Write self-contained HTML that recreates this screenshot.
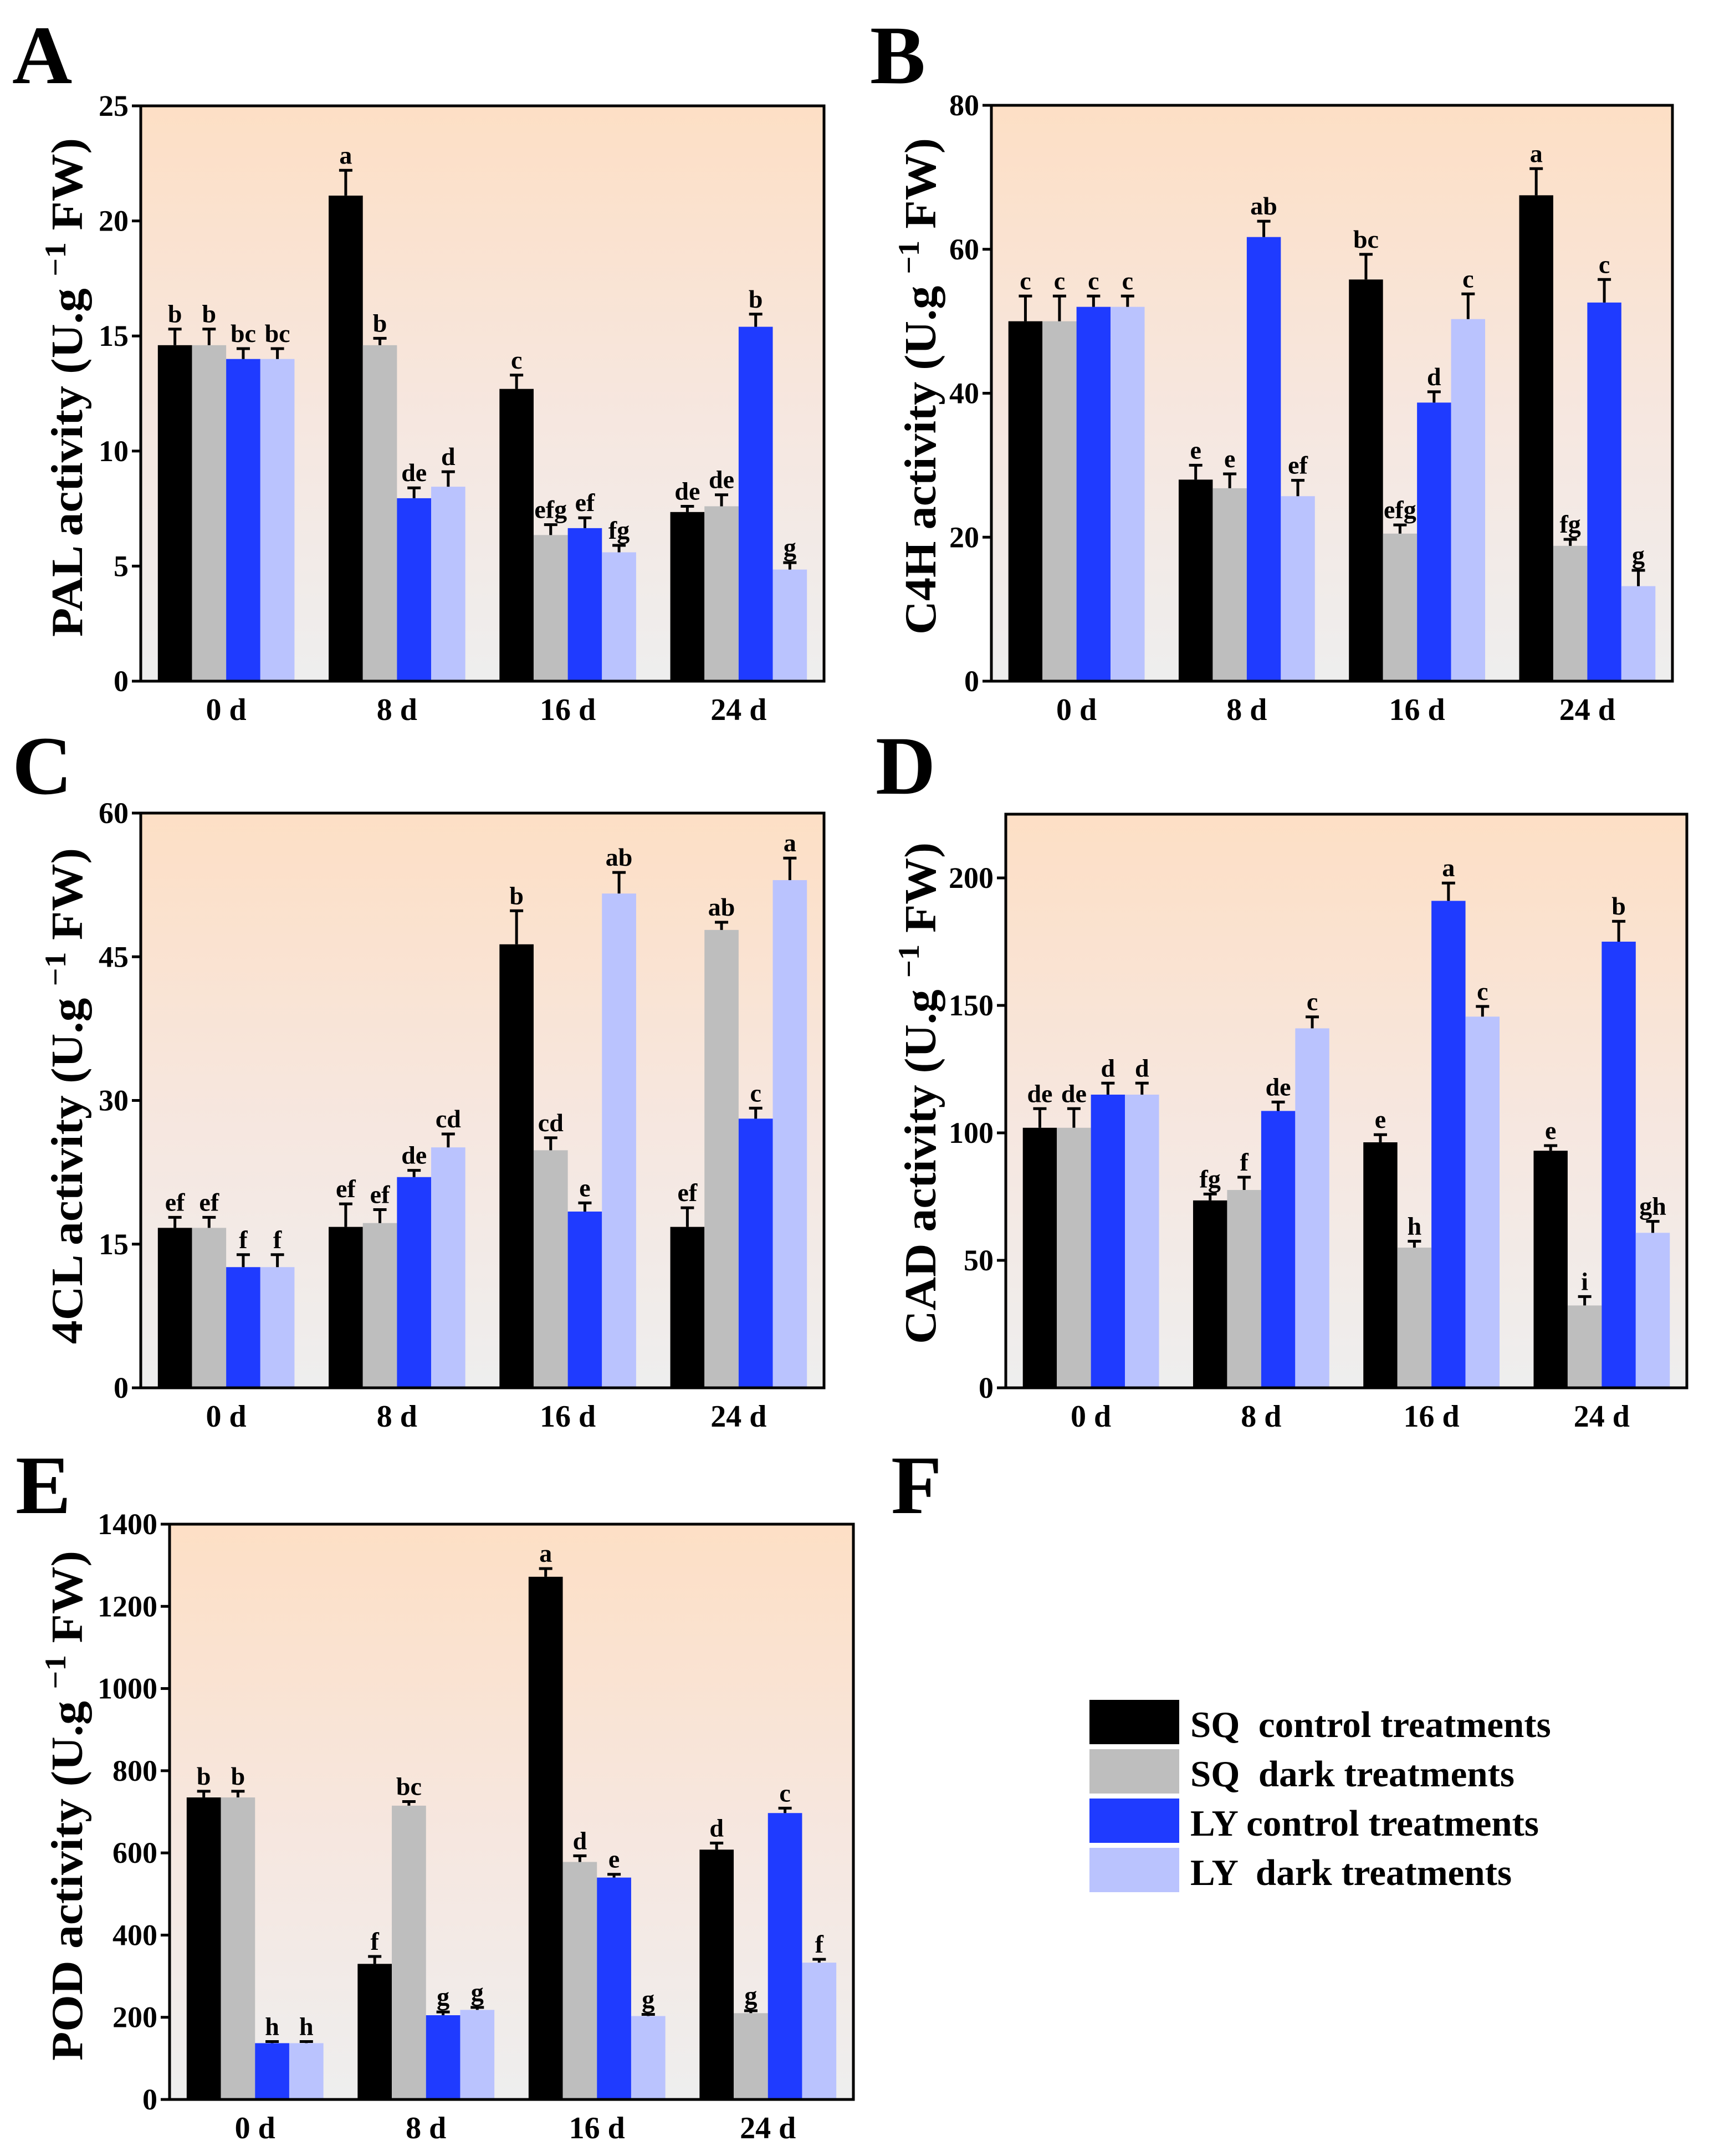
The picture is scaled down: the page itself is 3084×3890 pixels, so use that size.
<!DOCTYPE html>
<html><head><meta charset="utf-8"><style>
html,body{margin:0;padding:0;background:#fff;}
svg{display:block;font-family:"Liberation Serif",serif;font-weight:bold;}
</style></head><body>
<svg id="fig" width="3084" height="3890" viewBox="0 0 3084 3890" xmlns="http://www.w3.org/2000/svg">
<defs>
<linearGradient id="bg" x1="0" y1="0" x2="0" y2="1">
<stop offset="0" stop-color="#fddfc5"/><stop offset="0.55" stop-color="#f6e7e0"/><stop offset="1" stop-color="#eeeeee"/>
</linearGradient>
</defs>
<g id="legend">
<rect x="1966" y="3067" width="162" height="80" fill="#000"/>
<text x="2148" y="3134" font-size="67" xml:space="preserve">SQ  control treatments</text>
<rect x="1966" y="3156" width="162" height="80" fill="#bebebe"/>
<text x="2148" y="3223" font-size="67" xml:space="preserve">SQ  dark treatments</text>
<rect x="1966" y="3245" width="162" height="80" fill="#1f3bff"/>
<text x="2148" y="3312" font-size="67" xml:space="preserve">LY control treatments</text>
<rect x="1966" y="3334" width="162" height="80" fill="#bac3fe"/>
<text x="2148" y="3401" font-size="67" xml:space="preserve">LY  dark treatments</text>
</g>
<text x="1608" y="2730" font-size="150">F</text>
</svg>
<script>
const categories = ["0 d","8 d","16 d","24 d"];
const seriesColors = ["#000000","#bebebe","#1f3bff","#bac3fe"];

// Panel A - PAL
const palSQc = [14.6,21.1,12.7,7.35], palSQd = [14.6,14.6,6.35,7.6], palLYc = [14.0,7.95,6.65,15.4], palLYd = [14.0,8.45,5.6,4.85];
const palErrSQc = [0.7,1.1,0.6,0.25], palErrSQd = [0.7,0.3,0.45,0.5], palErrLYc = [0.45,0.45,0.45,0.55], palErrLYd = [0.45,0.65,0.3,0.3];
const palLetSQc = ["b","a","c","de"], palLetSQd = ["b","b","efg","de"], palLetLYc = ["bc","de","ef","b"], palLetLYd = ["bc","d","fg","g"];
const palTicks = [0,5,10,15,20,25];

// Panel B - C4H
const c4hSQc = [50,28,55.8,67.5], c4hSQd = [50,26.8,20.5,18.8], c4hLYc = [52,61.7,38.7,52.6], c4hLYd = [52,25.7,50.3,13.2];
const c4hErrSQc = [3.5,2,3.5,3.7], c4hErrSQd = [3.5,2,1.2,0.9], c4hErrLYc = [1.5,2.2,1.5,3.2], c4hErrLYd = [1.5,2.2,3.5,2.2];
const c4hLetSQc = ["c","e","bc","a"], c4hLetSQd = ["c","e","efg","fg"], c4hLetLYc = ["c","ab","d","c"], c4hLetLYd = ["c","ef","c","g"];
const c4hTicks = [0,20,40,60,80];

// Panel C - 4CL
const clSQc = [16.7,16.8,46.3,16.8], clSQd = [16.7,17.2,24.8,47.8], clLYc = [12.6,22,18.4,28.1], clLYd = [12.6,25.1,51.6,53];
const clErrSQc = [1.1,2.4,3.5,2], clErrSQd = [1.1,1.4,1.3,0.8], clErrLYc = [1.3,0.7,0.9,1.1], clErrLYd = [1.3,1.4,2.2,2.3];
const clLetSQc = ["ef","ef","b","ef"], clLetSQd = ["ef","ef","cd","ab"], clLetLYc = ["f","de","e","c"], clLetLYd = ["f","cd","ab","a"];
const clTicks = [0,15,30,45,60];

// Panel D - CAD
const cadSQc = [102,73.5,96.3,93], cadSQd = [102,77.6,55,32.3], cadLYc = [115,108.6,191,175], cadLYd = [115,141,145.6,60.8];
const cadErrSQc = [7.5,2.5,3,2], cadErrSQd = [7.5,5,2.5,3.5], cadErrLYc = [4.5,3.5,7,8], cadErrLYd = [4.5,4.5,4,4.5];
const cadLetSQc = ["de","fg","e","e"], cadLetSQd = ["de","f","h","i"], cadLetLYc = ["d","de","a","b"], cadLetLYd = ["d","c","c","gh"];
const cadTicks = [0,50,100,150,200];

// Panel E - POD
const podSQc = [735,330,1272,608], podSQd = [735,715,578,210], podLYc = [137,205,540,697], podLYd = [137,218,203,333];
const podErrSQc = [15,18,20,16], podErrSQd = [15,10,15,6], podErrLYc = [4,8,8,12], podErrLYd = [4,6,4,8];
const podLetSQc = ["b","f","a","d"], podLetSQd = ["b","bc","d","g"], podLetLYc = ["h","g","e","c"], podLetLYd = ["h","g","g","f"];
const podTicks = [0,200,400,600,800,1000,1200,1400];

const NS = "http://www.w3.org/2000/svg";
const svg = document.getElementById("fig");
function mk(tag, attrs, parent){
  const e = document.createElementNS(NS, tag);
  for (const k in attrs) e.setAttribute(k, attrs[k]);
  (parent||svg).appendChild(e);
  return e;
}

function drawPanel(id, letter, lx, ly, box, ymax, ticks, series, errs, lets, titleName, titleX, titleY1, titleY2){
  const g = mk("g", {});
  
  
  const L=box[0], R=box[1], T=box[2], B=box[3];
  const yScale = v => B - (v/ymax)*(B-T);
  const gw = (R-L)/categories.length;
  const bw = gw*0.2;
  const xBar = (gi, si) => L + gi*gw + gw*0.1 + si*bw;

  const pl = mk("text", {x:lx, y:ly, "font-size":150}, g);
  pl.textContent = letter;
  
  

  const bg = mk("rect", {x:L, y:T, width:R-L, height:B-T, fill:"url(#bg)"}, g);
  
  

  series.forEach((vals, si) => {
    vals.forEach((v, gi) => {
      const x = xBar(gi, si), y = yScale(v);
      const r = mk("rect", {x:x, y:y, width:bw, height:B-y, fill:seriesColors[si]}, g);
      
      
      const cx = x + bw/2, ye = yScale(v + errs[si][gi]);
      const el = mk("path", {d:`M${cx},${y} V${ye} M${cx-12},${ye} H${cx+12}`, stroke:"#000", "stroke-width":5, fill:"none"}, g);
      
      
      const t = mk("text", {x:cx, y:ye-12, "font-size":46, "text-anchor":"middle"}, g);
      t.textContent = lets[si][gi];
      
      
    });
  });

  const fr = mk("rect", {x:L, y:T, width:R-L, height:B-T, fill:"none", stroke:"#000", "stroke-width":5}, g);
  
  

  ticks.forEach(tv => {
    const y = yScale(tv);
    const tk = mk("line", {x1:L-16, x2:L, y1:y, y2:y, stroke:"#000", "stroke-width":5}, g);
    
    
    const tl = mk("text", {x:L-22, y:y+18, "font-size":54, "text-anchor":"end"}, g);
    tl.textContent = tv;
    
    
  });

  categories.forEach((c, gi) => {
    const cx = L + gi*gw + gw/2;
    const xl = mk("text", {x:cx, y:B+70, "font-size":56, "text-anchor":"middle"}, g);
    xl.textContent = c;
    
    
  });

  const len = titleY2 - titleY1;
  const tt = mk("text", {x:0, y:0, "font-size":80, "text-anchor":"middle", transform:`translate(${titleX},${(titleY1+titleY2)/2}) rotate(-90)`, textLength:len, lengthAdjust:"spacingAndGlyphs"}, g);
  
  
  const s1 = mk("tspan", {}, tt); s1.textContent = titleName + " activity (U.g ";
  const s2 = mk("tspan", {dy:-30, "font-size":54}, tt); s2.textContent = "\u22121";
  const s3 = mk("tspan", {dy:30}, tt); s3.textContent = " FW)";
}

drawPanel("pal","A",22,150,[254,1487,191,1229],25,palTicks,[palSQc,palSQd,palLYc,palLYd],[palErrSQc,palErrSQd,palErrLYc,palErrLYd],[palLetSQc,palLetSQd,palLetLYc,palLetLYd],"PAL",148,249,1149);
drawPanel("c4h","B",1570,150,[1789,3018,190,1229],80,c4hTicks,[c4hSQc,c4hSQd,c4hLYc,c4hLYd],[c4hErrSQc,c4hErrSQd,c4hErrLYc,c4hErrLYd],[c4hLetSQc,c4hLetSQd,c4hLetLYc,c4hLetLYd],"C4H",1688,249,1145);
drawPanel("4cl","C",22,1432,[254,1487,1467,2504],60,clTicks,[clSQc,clSQd,clLYc,clLYd],[clErrSQc,clErrSQd,clErrLYc,clErrLYd],[clLetSQc,clLetSQd,clLetLYc,clLetLYd],"4CL",148,1530,2425);
drawPanel("cad","D",1580,1432,[1815,3044,1469,2504],225,cadTicks,[cadSQc,cadSQd,cadLYc,cadLYd],[cadErrSQc,cadErrSQd,cadErrLYc,cadErrLYd],[cadLetSQc,cadLetSQd,cadLetLYc,cadLetLYd],"CAD",1688,1520,2425);
drawPanel("pod","E",28,2730,[306,1540,2750,3788],1400,podTicks,[podSQc,podSQd,podLYc,podLYd],[podErrSQc,podErrSQd,podErrLYc,podErrLYd],[podLetSQc,podLetSQd,podLetLYc,podLetLYd],"POD",148,2798,3718);
</script>
</body></html>
